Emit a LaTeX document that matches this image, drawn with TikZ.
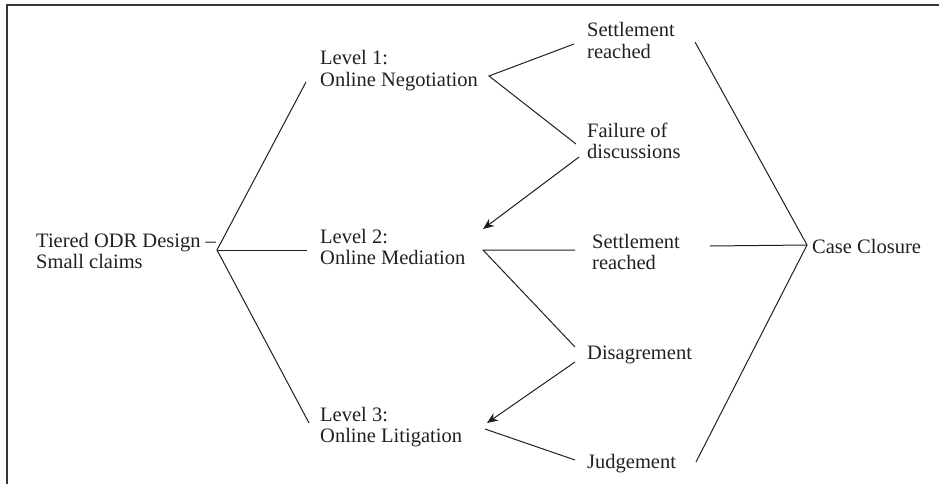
\documentclass[tikz,border=0pt]{standalone}
\usepackage{fontspec}
\setmainfont{Liberation Serif}
\usetikzlibrary{arrows.meta}
\definecolor{ink}{HTML}{231F20}
\newcommand{\twoln}[2]{\vtop{\baselineskip=21.5pt\hbox{#1}\hbox{#2}}}
\begin{document}
\begin{tikzpicture}[x=1pt,y=-1pt,
  lbl/.style={anchor=base west,inner sep=0pt,text=ink,font=\fontsize{20.5}{21.5}\selectfont},
  conn/.style={draw=ink,line width=1pt},
  arr/.style={conn,-{Stealth[length=11pt,width=9pt]}},
  frame/.style={draw=ink!90,line width=2pt}]
\useasboundingbox (0,0) rectangle (939,484);
% frame (top and left edges visible)
\coordinate (fTL) at (6.5,5.5);
\coordinate (fTR) at (940,5.5);
\coordinate (fBL) at (6.5,485);
\draw[frame] (fTR) -- (fTL) -- (fBL);
% text nodes
\node[lbl] (t0) at (36,247) {\twoln{Tiered ODR Design –}{Small claims}};
\node[lbl] (l1) at (320,65) {\twoln{Level 1:}{Online Negotiation}};
\node[lbl] (l2) at (320,243) {\twoln{Level 2:}{Online Mediation}};
\node[lbl] (l3) at (320,421) {\twoln{Level 3:}{Online Litigation}};
\node[lbl] (s1) at (587,37) {\twoln{Settlement}{reached}};
\node[lbl] (f1) at (587,137) {\twoln{Failure of}{discussions}};
\node[lbl] (s2) at (592,248) {\twoln{Settlement}{reached}};
\node[lbl] (d2) at (587,359) {Disagrement};
\node[lbl] (j3) at (587,468) {Judgement};
\node[lbl] (cc) at (812,253) {Case Closure};
% connector end points
\coordinate (h0) at (217,250);
\coordinate (l1in) at (306,82);
\coordinate (l2in) at (307,250);
\coordinate (l3in) at (309,423);
\coordinate (l1out) at (489,76);
\coordinate (l2out) at (483,250);
\coordinate (l3out) at (485,429);
\coordinate (s1in) at (574,44);
\coordinate (f1in) at (576,144);
\coordinate (f1out) at (579,157);
\coordinate (l2arr) at (483,229);
\coordinate (s2in) at (575,250);
\coordinate (d2in) at (575,347);
\coordinate (d2out) at (575,362);
\coordinate (l3arr) at (487,423);
\coordinate (j3in) at (575,460);
\coordinate (s1out) at (695,42);
\coordinate (s2out) at (710,246);
\coordinate (j3out) at (696,462);
\coordinate (cch) at (807,245);
% connectors
\draw[conn] (l1in) -- (h0) -- (l3in);
\draw[conn] (h0) -- (l2in);
\draw[conn] (s1in) -- (l1out) -- (f1in);
\draw[arr] (f1out) -- (l2arr);
\draw[conn] (s2in) -- (l2out) -- (d2in);
\draw[arr] (d2out) -- (l3arr);
\draw[conn] (l3out) -- (j3in);
\draw[conn] (s1out) -- (cch) -- (j3out);
\draw[conn] (s2out) -- (cch);
\end{tikzpicture}
\end{document}
